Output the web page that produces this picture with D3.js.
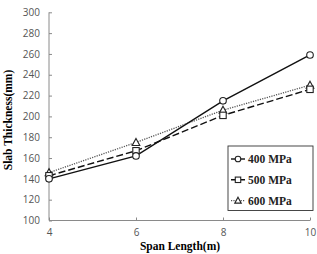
<!DOCTYPE html>
<html>
<head>
<meta charset="utf-8">
<script src="https://cdn.jsdelivr.net/npm/d3@7"></script>
<style>
  body { margin: 0; background: #fff; }
  svg { display: block; }
</style>
</head>
<body>
<div id="chart"></div>
<script>
// span lengths (m) and slab thickness (mm) per steel strength
const spans = [4, 6, 8, 10];
const yTicks = [100, 120, 140, 160, 180, 200, 220, 240, 260, 280, 300];
const s400 = [140, 162, 215, 259];
const s500 = [143, 167, 201, 226];
const s600 = [146, 175, 206, 230];
const seriesNames = ["400 MPa", "500 MPa", "600 MPa"];

const W = 317, H = 254;
const svg = d3.select("#chart").append("svg").attr("width", W).attr("height", H);

const x = d3.scaleLinear().domain([4, 10]).range([49, 310]);
const y = d3.scaleLinear().domain([100, 300]).range([220.5, 12.3]);

// axes
const yAxis = svg.append("g").attr("transform", "translate(49,0)")
  .call(d3.axisRight(y).tickValues(yTicks).tickSize(3).tickFormat(d3.format("d")));
yAxis.selectAll("text").attr("x", -9).attr("text-anchor", "end");
const xAxis = svg.append("g").attr("transform", "translate(0,220.5)")
  .call(d3.axisTop(x).tickValues(spans).tickSize(3).tickFormat(d3.format("d")));
xAxis.selectAll("text").attr("y", 15);
svg.selectAll(".domain, .tick line").attr("stroke", "#8a8a8a");
svg.selectAll(".tick text")
  .attr("fill", "#555").attr("font-family", "'Open Sans', sans-serif").attr("font-size", 10);
xAxis.select(".domain").attr("d", "M49,0H310");
yAxis.select(".domain").attr("d", "M0,12.3V220.5");

// axis titles
svg.append("text").attr("x", 180).attr("y", 250).attr("text-anchor", "middle")
  .attr("font-family", "'Liberation Serif', serif").attr("font-weight", "bold").attr("font-size", 11.5)
  .text("Span Length(m)");
svg.append("text").attr("transform", "translate(12,120) rotate(-90)").attr("text-anchor", "middle")
  .attr("font-family", "'Liberation Serif', serif").attr("font-weight", "bold").attr("font-size", 11.5)
  .text("Slab Thickness(mm)");

const line = d3.line().x((d, i) => x(spans[i])).y(d => y(d));
const styles = [
  { data: s400, dash: null, color: "#111", width: 1.4, marker: "circle" },
  { data: s500, dash: "7,3", color: "#111", width: 1.4, marker: "square" },
  { data: s600, dash: "1.2,1.2", color: "#555", width: 1.3, marker: "triangle" }
];

function drawMarker(g, type, cx, cy, k) {
  if (type === "circle") {
    g.append("circle").attr("cx", cx).attr("cy", cy).attr("r", 3.3 * k)
      .attr("fill", "#fff").attr("stroke", "#222").attr("stroke-width", 1.1);
  } else if (type === "square") {
    g.append("rect").attr("x", cx - 3.2 * k).attr("y", cy - 3.2 * k)
      .attr("width", 6.4 * k).attr("height", 6.4 * k)
      .attr("fill", "#fff").attr("stroke", "#222").attr("stroke-width", 1.1);
  } else {
    g.append("path").attr("d", `M${cx},${cy - 4 * k}L${cx + 3.8 * k},${cy + 3 * k}L${cx - 3.8 * k},${cy + 3 * k}Z`)
      .attr("fill", "#fff").attr("stroke", "#222").attr("stroke-width", 1.1);
  }
}

styles.slice().reverse().forEach(s => {
  svg.append("path").attr("d", line(s.data)).attr("fill", "none")
    .attr("stroke", s.color).attr("stroke-width", s.width)
    .attr("stroke-dasharray", s.dash);
});
styles.slice().reverse().forEach(s => {
  const g = svg.append("g");
  s.data.forEach((v, i) => drawMarker(g, s.marker, x(spans[i]), y(v), 1));
});

// legend
const lg = svg.append("g");
lg.append("rect").attr("x", 228).attr("y", 146).attr("width", 85).attr("height", 64.5)
  .attr("fill", "#fff").attr("stroke", "#333").attr("stroke-width", 0.9);
seriesNames.forEach((name, i) => {
  const ly = 159 + i * 20.8;
  const s = styles[i];
  lg.append("line").attr("x1", 231).attr("x2", 245).attr("y1", ly).attr("y2", ly)
    .attr("stroke", s.color).attr("stroke-width", s.width).attr("stroke-dasharray", s.dash);
  drawMarker(lg, s.marker, 238, ly, 0.85);
  lg.append("text").attr("x", 248).attr("y", ly + 4)
    .attr("font-family", "'Liberation Serif', serif").attr("font-weight", "bold").attr("font-size", 11.5)
    .attr("fill", "#222").text(name);
});
</script>
</body>
</html>
